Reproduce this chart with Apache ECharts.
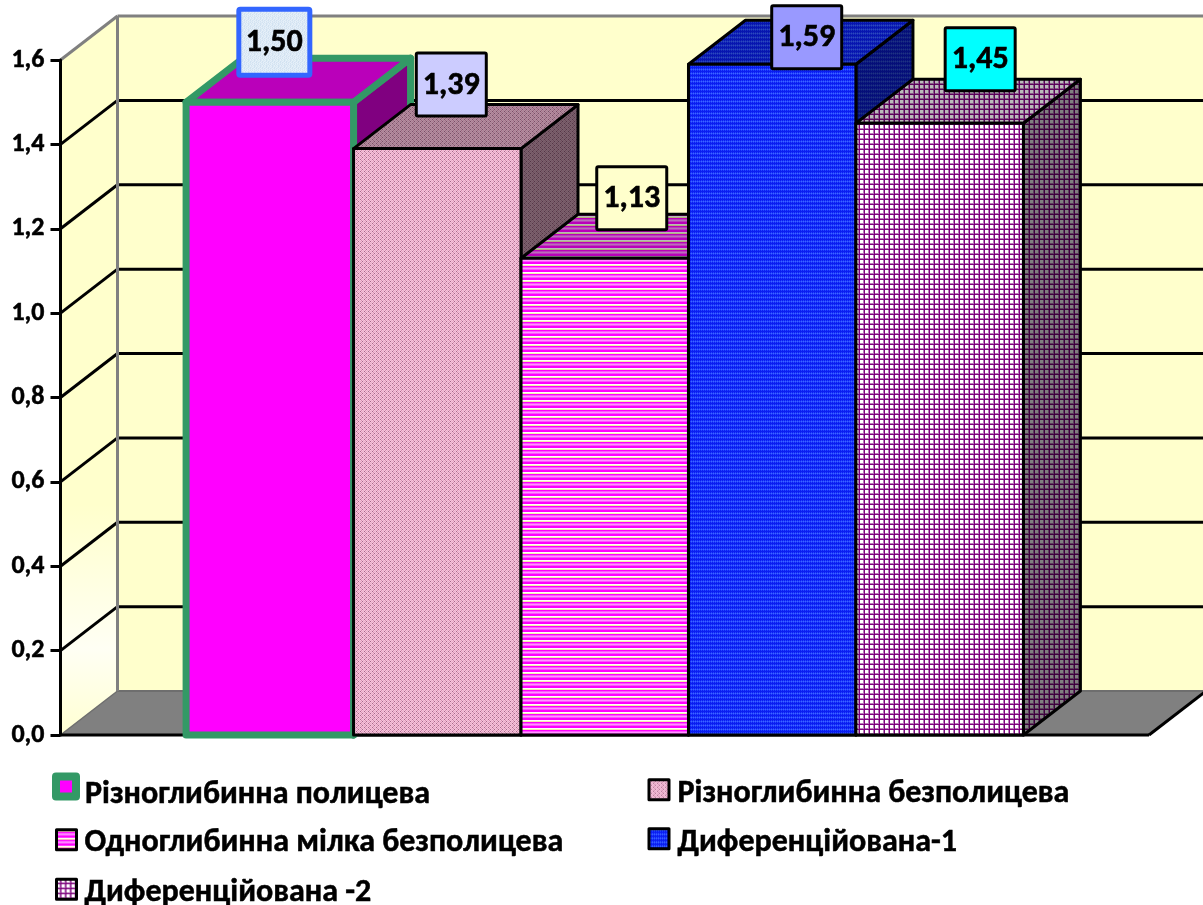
<!DOCTYPE html>
<html>
<head>
<meta charset="utf-8">
<style>html,body{margin:0;padding:0;background:#fff}#chart{width:1203px;height:905px}</style>
<script src="https://cdn.jsdelivr.net/npm/echarts@6/dist/echarts.min.js"></script>
</head>
<body>
<div id="chart"></div>
<script>
// Tillage variants and their measured values
const categories = [
  'Різноглибинна полицева',
  'Різноглибинна безполицева',
  'Одноглибинна мілка безполицева',
  'Диференційована-1',
  'Диференційована -2'
];
const values = [1.50, 1.39, 1.13, 1.59, 1.45];
const yTicks = [0.2, 0.4, 0.6, 0.8, 1.0, 1.2, 1.4];

const FONT = 'Carlito, Lato, "Open Sans", sans-serif';
const DEPTH = { x: 57, y: -44 };

// Turns rows of palette letters into a repeating canvas fill
function tile(rows, palette, shade) {
  const c = document.createElement('canvas');
  c.width = rows[0].length;
  c.height = rows.length;
  const g = c.getContext('2d');
  rows.forEach((row, y) => {
    [...row].forEach((k, x) => {
      const v = parseInt(palette[k].slice(1), 16);
      const r = Math.round((v >> 16 & 255) * shade);
      const gr = Math.round((v >> 8 & 255) * shade);
      const b = Math.round((v & 255) * shade);
      g.fillStyle = `rgb(${r},${gr},${b})`;
      g.fillRect(x, y, 1, 1);
    });
  });
  return { image: c, repeat: 'repeat' };
}

const textures = {
  solid: { rows: ['a'], palette: { a: '#FF00FF' } },
  rose: {
    rows: ['abac', 'cada', 'abac', 'daca'],
    palette: { a: '#F4C6DC', b: '#D68BAE', c: '#EBA9C8', d: '#A9688A' }
  },
  stripes: {
    rows: ['w', 'y', 'm', 'p', 'l', 'p', 'm', 'm'],
    palette: { w: '#FFFFFF', y: '#F5F0A8', m: '#FF00FF', p: '#FF55FF', l: '#FF99FF' }
  },
  blue: {
    rows: ['abab', 'bcbc', 'abab', 'aaaa'],
    palette: { a: '#0A1EF0', b: '#2240FF', c: '#3C66FF' }
  },
  plaid: {
    rows: ['wwwpd', 'wwwpd', 'wwwpd', 'ppppd', 'ddddD'],
    palette: { w: '#FFFFFF', p: '#B880B8', d: '#800080', D: '#700070' }
  }
};

function fills(name) {
  const t = textures[name];
  return {
    front: tile(t.rows, t.palette, 1),
    top: tile(t.rows, t.palette, 0.73),
    side: tile(t.rows, t.palette, 0.5)
  };
}

const mottled = tile(
  ['abcaba', 'bacbca', 'cabacb', 'abcbaa', 'cbaacb', 'bacabc'],
  { a: '#DCE9F5', b: '#E6F0F9', c: '#D2E2F1' }, 1
);

// Per-bar appearance and where each value box sits relative to the bar top
const barLooks = [
  { fills: fills('solid'), edge: '#339966', edgeWidth: 7, box: { fill: mottled, stroke: '#3366FF', lineWidth: 5 }, dx: 4.5, dy: -60, boxW: 71, boxH: 66 },
  { fills: fills('rose'), edge: '#000000', edgeWidth: 3, box: { fill: '#CCCCFF', stroke: '#000000', lineWidth: 3 }, dx: 14, dy: -64, boxW: 70, boxH: 63 },
  { fills: fills('stripes'), edge: '#000000', edgeWidth: 3, box: { fill: '#FFFFCC', stroke: '#000000', lineWidth: 3 }, dx: 27, dy: -60, boxW: 70, boxH: 63 },
  { fills: fills('blue'), edge: '#000000', edgeWidth: 3, box: { fill: '#9999FF', stroke: '#000000', lineWidth: 3 }, dx: 34.5, dy: -27, boxW: 70, boxH: 63 },
  { fills: fills('plaid'), edge: '#000000', edgeWidth: 3, box: { fill: '#00FFFF', stroke: '#000000', lineWidth: 3 }, dx: 40.5, dy: -64, boxW: 70, boxH: 63 }
];

const legendSpots = [
  { left: 52, top: 772.5, size: 20, gap: 4, drop: 16 },
  { left: 647.5, top: 778, size: 20, gap: 3.5, drop: 9 },
  { left: 55, top: 827, size: 20, gap: 3, drop: 7 },
  { left: 647.5, top: 827, size: 20, gap: 3.5, drop: 9 },
  { left: 55, top: 876.5, size: 20, gap: 3, drop: 7 }
];

const xExtent = [-1.25, 5.25];
const yExtent = [0, 1.6];

function poly(points, style, z2) {
  return { type: 'polygon', shape: { points }, style, z2 };
}
function seg(a, b, stroke, lineWidth, z2) {
  return { type: 'line', shape: { x1: a[0], y1: a[1], x2: b[0], y2: b[1] }, style: { stroke, lineWidth }, z2 };
}
const back = p => [p[0] + DEPTH.x, p[1] + DEPTH.y];

// Back wall, side wall and floor of the box
function renderWalls(params, api) {
  const bl = api.coord([xExtent[0], yExtent[0]]);
  const br = api.coord([xExtent[1], yExtent[0]]);
  const tl = api.coord([xExtent[0], yExtent[1]]);
  const tr = api.coord([xExtent[1], yExtent[1]]);
  const wallGlow = new echarts.graphic.LinearGradient(0, 0, 0, 1, [
    { offset: 0, color: '#FFFFCC' },
    { offset: 0.68, color: '#FFFFCC' },
    { offset: 0.88, color: '#FFFFF4' },
    { offset: 1, color: '#FFFFD2' }
  ]);
  return {
    type: 'group',
    children: [
      poly([back(bl), back(br), back(tr), back(tl)], { fill: '#FFFFCC' }, 1),
      poly([bl, back(bl), back(tl), tl], { fill: wallGlow }, 1),
      poly([bl, br, back(br), back(bl)], { fill: '#808080' }, 2),
      seg(back(bl), back(br), '#6E6E6E', 2, 3),
      seg(bl, back(bl), '#6E6E6E', 1.5, 3),
      seg(br, back(br), '#000000', 3, 3),
      seg(bl, br, '#000000', 3, 3),
      seg(tl, back(tl), '#808080', 3, 3),
      seg(back(tl), back(tr), '#808080', 3, 3),
      seg(back(bl), back(tl), '#808080', 3, 4)
    ]
  };
}

// One gridline folded over the side wall and the back wall
function renderGrid(params, api) {
  const y = api.value(1);
  const a = api.coord([xExtent[0], y]);
  const b = api.coord([xExtent[1], y]);
  return {
    type: 'group',
    children: [
      seg(a, back(a), '#000000', 3, 3),
      seg(back(a), back(b), '#000000', 3, 3)
    ]
  };
}

function renderBar(look, order) {
  return function (params, api) {
    const i = api.value(0);
    const v = api.value(1);
    const tl = api.coord([i - 0.5, v]);
    const tr = api.coord([i + 0.5, v]);
    const bl = api.coord([i - 0.5, 0]);
    const br = api.coord([i + 0.5, 0]);
    const line = { stroke: look.edge, lineWidth: look.edgeWidth, lineJoin: 'round' };
    const z = 10 + order * 3;
    const centre = (tl[0] + tr[0]) / 2 + look.dx;
    const middle = tl[1] + look.dy;
    return {
      type: 'group',
      children: [
        poly([br, tr, back(tr), back(br)], Object.assign({ fill: look.fills.side }, line), z),
        poly([tl, tr, back(tr), back(tl)], Object.assign({ fill: look.fills.top }, line), z + 1),
        poly([bl, br, tr, tl], Object.assign({ fill: look.fills.front }, line), z + 2),
        {
          type: 'rect',
          z2: 50,
          shape: { x: centre - look.boxW / 2, y: middle - look.boxH / 2, width: look.boxW, height: look.boxH, r: 1.5 },
          style: look.box
        },
        {
          type: 'text',
          z2: 51,
          style: {
            x: centre,
            y: middle + 1,
            text: v.toFixed(2).replace('.', ','),
            align: 'center',
            verticalAlign: 'middle',
            font: 'bold 32px ' + FONT,
            fill: '#000000',
            stroke: '#000000',
            lineWidth: 0.6
          }
        }
      ]
    };
  };
}

const series = [
  { type: 'custom', z: 1, silent: true, data: [[xExtent[0], yExtent[0]]], renderItem: renderWalls, encode: { x: 0, y: 1 } },
  { type: 'custom', z: 1, silent: true, data: yTicks.map(t => [xExtent[0], t]), renderItem: renderGrid, encode: { x: 0, y: 1 } }
].concat(categories.map((name, i) => ({
  type: 'custom',
  name,
  z: 2,
  silent: true,
  data: [[i, values[i]]],
  encode: { x: 0, y: 1 },
  renderItem: renderBar(barLooks[i], i)
})));

const legends = categories.map((name, i) => {
  const spot = legendSpots[i];
  const look = barLooks[i];
  const ink = {
    fontFamily: FONT,
    fontWeight: 'bold',
    fontSize: 32,
    color: '#000000',
    textBorderColor: '#000000',
    textBorderWidth: 0.5
  };
  return {
    left: spot.left,
    top: spot.top,
    padding: 0,
    itemWidth: spot.size,
    itemHeight: spot.size,
    selectedMode: false,
    formatter: '{t|{name}}',
    data: [{
      name,
      icon: 'rect',
      itemStyle: {
        color: look.fills.front,
        borderColor: look.edge,
        borderWidth: i === 0 ? 8 : 3,
        borderJoin: 'round'
      }
    }],
    textStyle: Object.assign({}, ink, {
      rich: { t: Object.assign({}, ink, { padding: [spot.drop, 0, 0, spot.gap] }) }
    })
  };
});

const chart = echarts.init(document.getElementById('chart'), null, { renderer: 'canvas' });
chart.setOption({
  animation: false,
  backgroundColor: '#FFFFFF',
  tooltip: { show: false },
  legend: legends,
  grid: { left: 60.5, right: 54, top: 60, bottom: 170, containLabel: false },
  xAxis: { type: 'value', min: xExtent[0], max: xExtent[1], show: false },
  yAxis: {
    type: 'value',
    min: yExtent[0],
    max: yExtent[1],
    interval: 0.2,
    z: 5,
    splitLine: { show: false },
    axisLine: { show: true, onZero: false, lineStyle: { color: '#000000', width: 3 } },
    axisTick: { show: true, length: 10, lineStyle: { color: '#000000', width: 3 } },
    axisLabel: {
      margin: 16,
      color: '#000000',
      fontFamily: FONT,
      fontWeight: 'bold',
      fontSize: 26,
      textBorderColor: '#000000',
      textBorderWidth: 0.5,
      formatter: v => v.toFixed(1).replace('.', ',')
    }
  },
  series
});
</script>
</body>
</html>
